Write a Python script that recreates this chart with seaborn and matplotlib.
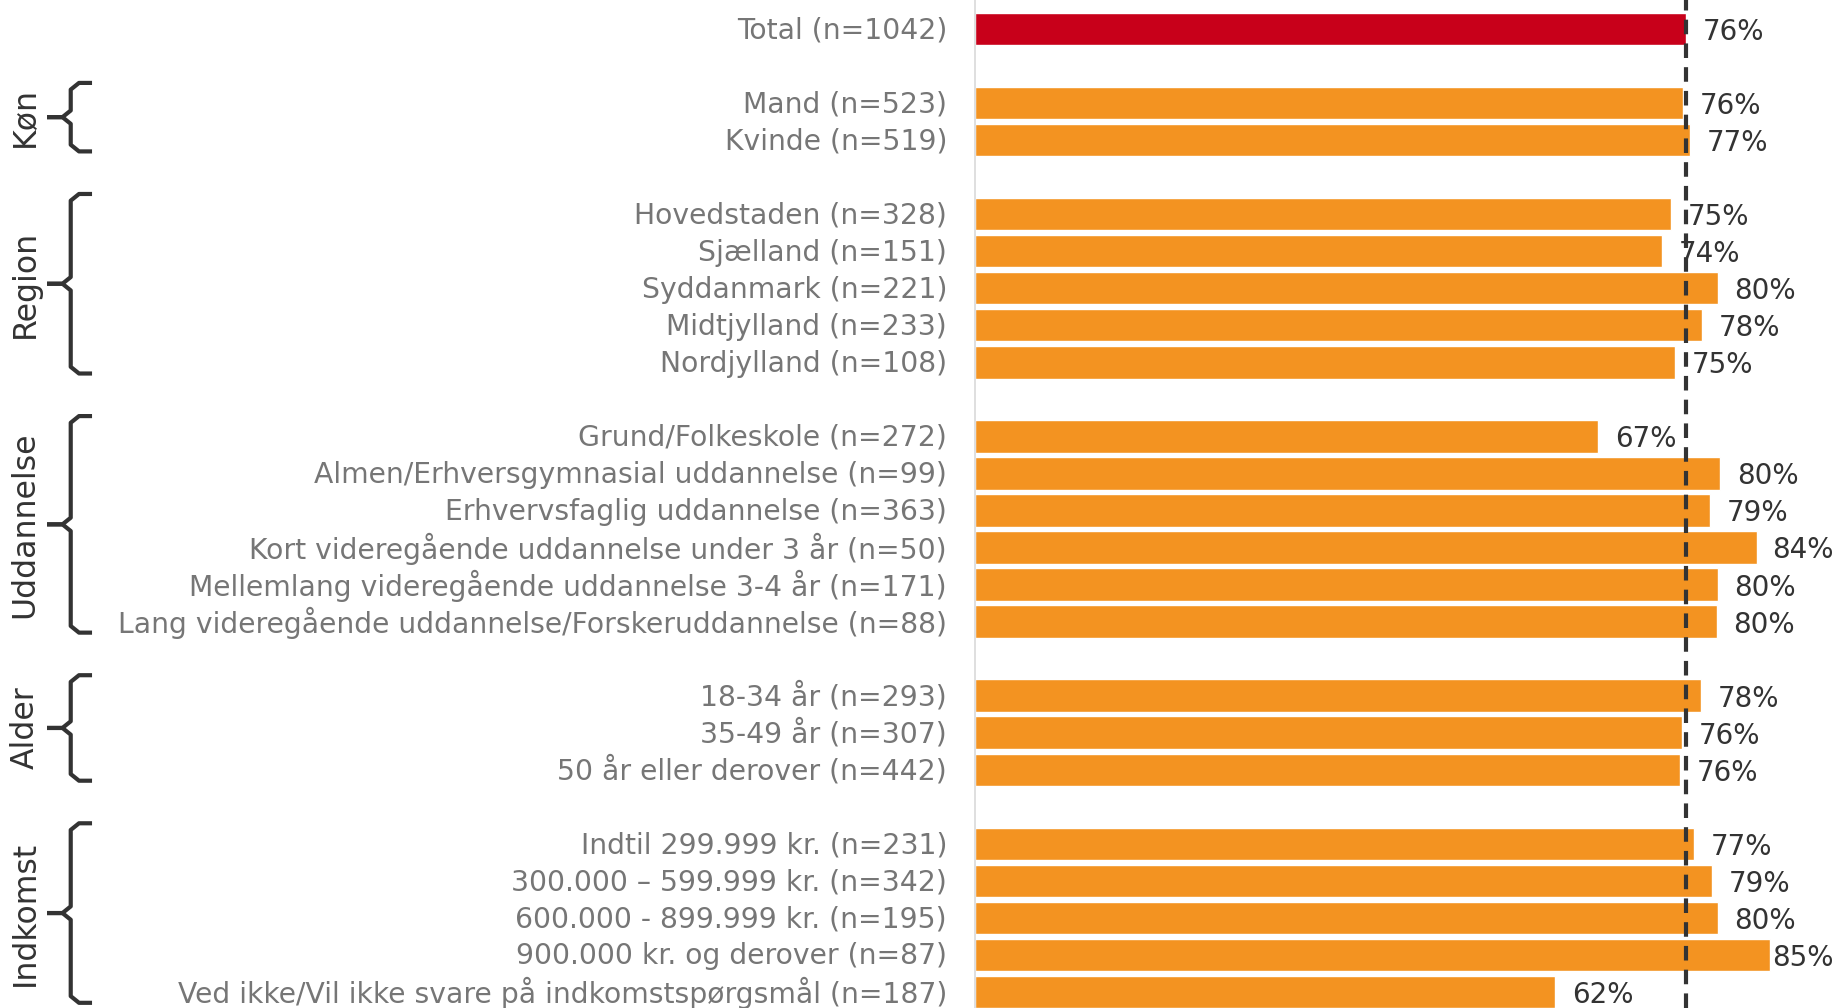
import numpy as np
import pandas as pd
import seaborn as sns
import matplotlib.pyplot as plt
from matplotlib.transforms import blended_transform_factory, ScaledTranslation

# data
labels = [
    "Total (n=1042)",
    "Mand (n=523)", "Kvinde (n=519)",
    "Hovedstaden (n=328)", "Sjælland (n=151)", "Syddanmark (n=221)",
    "Midtjylland (n=233)", "Nordjylland (n=108)",
    "Grund/Folkeskole (n=272)", "Almen/Erhversgymnasial uddannelse (n=99)",
    "Erhvervsfaglig uddannelse (n=363)", "Kort videregående uddannelse under 3 år (n=50)",
    "Mellemlang videregående uddannelse 3-4 år (n=171)",
    "Lang videregående uddannelse/Forskeruddannelse (n=88)",
    "18-34 år (n=293)", "35-49 år (n=307)", "50 år eller derover (n=442)",
    "Indtil 299.999 kr. (n=231)", "300.000 – 599.999 kr. (n=342)",
    "600.000 - 899.999 kr. (n=195)", "900.000 kr. og derover (n=87)",
    "Ved ikke/Vil ikke svare på indkomstspørgsmål (n=187)",
]
values = [76.2,
          75.9, 76.6,
          74.6, 73.6, 79.6, 77.9, 75.0,
          66.8, 79.9, 78.8, 83.8, 79.6, 79.5,
          77.8, 75.8, 75.6,
          77.1, 79.0, 79.6, 85.2, 62.2]
pct_text = ["76%", "76%", "77%", "75%", "74%", "80%", "78%", "75%",
            "67%", "80%", "79%", "84%", "80%", "80%",
            "78%", "76%", "76%", "77%", "79%", "80%", "85%", "62%"]
# row positions (blank row between groups)
rows = [0, 2, 3, 5, 6, 7, 8, 9, 11, 12, 13, 14, 15, 16, 18, 19, 20,
        22, 23, 24, 25, 26]
groups = ["Køn", "Region", "Uddannelse", "Alder", "Indkomst"]
group_rows = [(2, 3), (5, 9), (11, 16), (18, 20), (22, 26)]

df = pd.DataFrame({"label": labels, "value": values, "row": rows})
df["kind"] = ["total"] + ["sub"] * (len(df) - 1)

orange = "#F39321"
red = "#C8001A"
dark = "#333333"

sns.set_style("white")
plt.rcParams['font.family'] = ['DejaVu Sans']

fig = plt.figure(figsize=(18.37, 10.08), dpi=100)
ax = fig.add_axes([0.5307, 0, 0.4693, 1])

sns.barplot(data=df, x="value", y="row", hue="kind", orient="h",
            native_scale=True, dodge=False, width=0.87,
            palette={"total": red, "sub": orange}, legend=False,
            saturation=1, ax=ax)

ax.set_xlim(0, 92.4)
ax.set_ylim(26.44, -0.79)
ax.set_yticks(rows)
ax.set_yticklabels(labels, fontsize=20.3, color="#767676", va="center")
ax.tick_params(axis="y", length=0, pad=20)
# nudge labels down a little so they sit on the bar centre
shift = ScaledTranslation(0, -1 / 72, fig.dpi_scale_trans)
for lbl in ax.get_yticklabels():
    lbl.set_transform(lbl.get_transform() + shift)
ax.set_xticks([])
ax.set_xlabel("")
ax.set_ylabel("")
for s in ["top", "right", "bottom"]:
    ax.spines[s].set_visible(False)
ax.spines["left"].set_color("#D9D9D9")
ax.spines["left"].set_linewidth(1.2)

# average line
ax.axvline(values[0], color=dark, lw=3, dashes=(3.5, 2.2), zorder=3)

# value labels
for r, v, t in zip(rows, values, pct_text):
    ax.text(min(v + 1.8, 85.4), r, t, va="center_baseline", ha="left",
            fontsize=20, color=dark, zorder=4)

# group labels and braces
tr = blended_transform_factory(fig.transFigure, ax.transData)
x_v, x_end, x_tip, x_c = 0.0385, 0.0501, 0.0256, 0.0045
for g, (a, b) in zip(groups, group_rows):
    top, bot = a - 0.55, b + 0.3
    mid = (top + bot) / 2
    d = 0.18
    ax.plot([x_end, x_v + x_c, x_v, x_v, x_v - x_c, x_tip],
            [top, top, top + d, mid - d, mid, mid],
            transform=tr, color=dark, lw=3, clip_on=False,
            solid_joinstyle="round", solid_capstyle="butt")
    ax.plot([x_tip, x_v - x_c, x_v, x_v, x_v + x_c, x_end],
            [mid, mid, mid + d, bot - d, bot, bot],
            transform=tr, color=dark, lw=3, clip_on=False,
            solid_joinstyle="round", solid_capstyle="butt")
    ax.text(0.0136, mid, g, transform=tr, rotation=90, ha="center",
            va="center", fontsize=22.7, color=dark)

plt.savefig("out.png", dpi=100)
plt.close()
